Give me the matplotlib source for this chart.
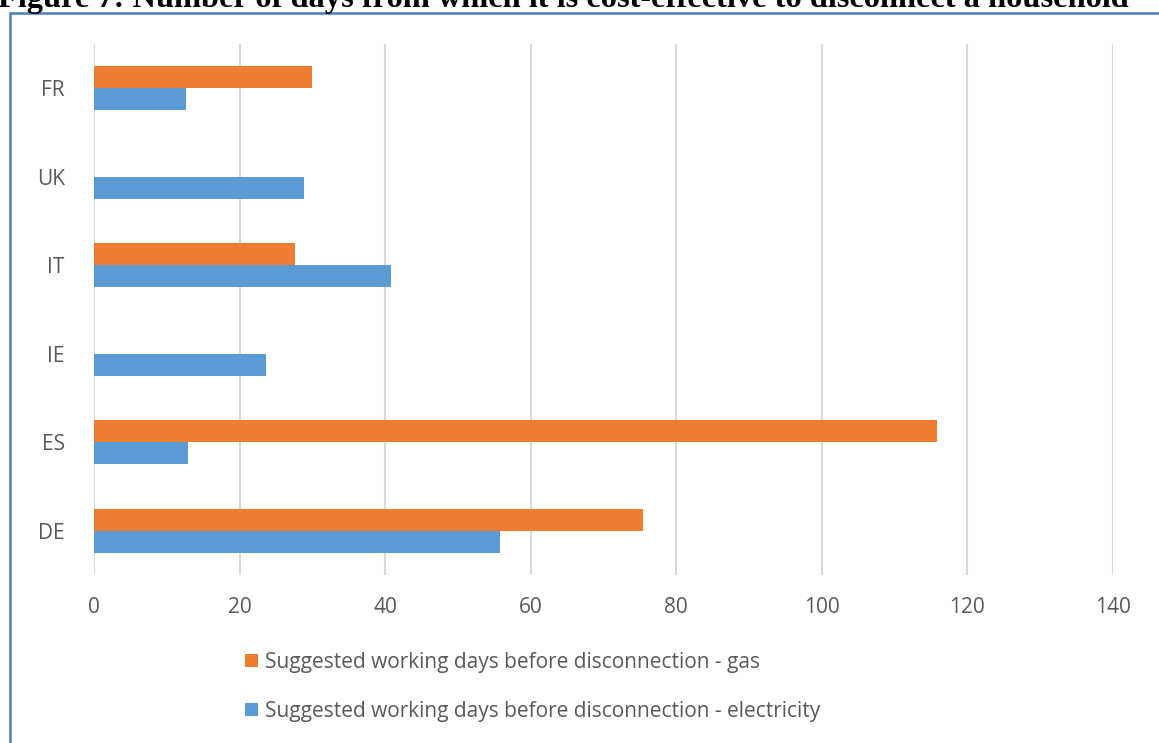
import matplotlib.pyplot as plt
import numpy as np
from matplotlib.patches import Rectangle

countries = ["DE", "ES", "IE", "IT", "UK", "FR"]
gas_days = [75.4, 115.8, 0, 27.6, 0, 30.0]
elec_days = [55.8, 12.9, 23.6, 40.8, 28.9, 12.6]
x_ticks = [0, 20, 40, 60, 80, 100, 120, 140]

gas_label = "Suggested working days before disconnection - gas"
elec_label = "Suggested working days before disconnection - electricity"
title = "Figure 7: Number of days from which it is cost-effective to disconnect a household"

orange = "#ED7D31"
blue = "#5B9BD5"
grey_txt = "#595959"

plt.rcParams['font.family'] = ['Open Sans', 'DejaVu Sans']

fig = plt.figure(figsize=(11.59, 7.43), dpi=100)
W, H = 1159, 743

# outer chart border (cut off at right and bottom)
fig.patches.append(Rectangle((10 / W, -0.05), 1.2, 1 - 13 / H + 0.05,
                             transform=fig.transFigure, fill=False,
                             edgecolor="#4A7EBB", linewidth=1.8, zorder=0))

fig.text(-0.002, 1 - 7 / H, title, family="Liberation Serif", weight="bold",
         fontsize=23.3, ha="left", va="baseline", color="black")

ax = fig.add_axes([94 / W, 1 - 575 / H, (1113 - 94) / W, (575 - 44) / H])

y = np.arange(len(countries))
h = 0.25
ax.barh(y + h / 2, gas_days, height=h, color=orange, label=gas_label, zorder=3)
ax.barh(y - h / 2, elec_days, height=h, color=blue, label=elec_label, zorder=3)

ax.set_xlim(0, 140)
ax.set_ylim(-0.5, len(countries) - 0.5)
ax.set_xticks(x_ticks)
ax.set_yticks(y)
ax.set_yticklabels(countries)
ax.grid(axis="x", color="#D9D9D9", linewidth=1.5, zorder=0)
for s in ax.spines.values():
    s.set_visible(False)
ax.tick_params(axis="both", length=0, labelcolor=grey_txt, labelsize=15)
ax.tick_params(axis="x", pad=16)
ax.tick_params(axis="y", pad=21)

handles, labels = ax.get_legend_handles_labels()
fig.legend(handles, labels, loc="center left",
           bbox_to_anchor=(228 / W, 1 - 687 / H), frameon=False,
           fontsize=15, labelcolor=grey_txt, handlelength=0.62, handleheight=0.62,
           handletextpad=0.35, labelspacing=1.35, borderpad=0.3)

fig.savefig("out.png", dpi=100)
